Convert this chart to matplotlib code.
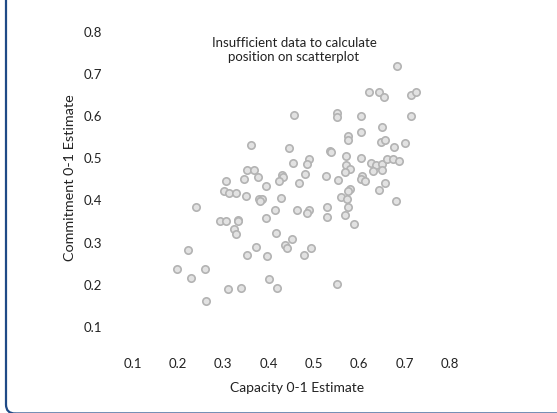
import matplotlib
matplotlib.use("Agg")
import matplotlib.pyplot as plt
from matplotlib.patches import FancyBboxPatch
from matplotlib.transforms import IdentityTransform

capacity = [0.683, 0.621, 0.643, 0.654, 0.715, 0.724, 0.455, 0.550, 0.550, 0.604,
            0.713, 0.651, 0.604, 0.576, 0.576, 0.648, 0.656, 0.701, 0.676, 0.360,
            0.446, 0.535, 0.537, 0.454, 0.490, 0.484, 0.571, 0.603, 0.570, 0.579,
            0.569, 0.626, 0.636, 0.651, 0.662, 0.674, 0.687, 0.631, 0.651, 0.607,
            0.604, 0.613, 0.657, 0.643, 0.682, 0.526, 0.554, 0.480, 0.466, 0.429,
            0.431, 0.422, 0.395, 0.353, 0.367, 0.376, 0.345, 0.307, 0.302, 0.313,
            0.329, 0.350, 0.379, 0.386, 0.380, 0.427, 0.560, 0.573, 0.579, 0.576,
            0.240, 0.413, 0.463, 0.488, 0.485, 0.529, 0.574, 0.568, 0.528, 0.588,
            0.293, 0.307, 0.333, 0.332, 0.394, 0.324, 0.328, 0.416, 0.451, 0.221,
            0.371, 0.352, 0.436, 0.440, 0.494, 0.479, 0.397, 0.197, 0.259, 0.229,
            0.401, 0.311, 0.340, 0.418, 0.551, 0.262]
commitment = [0.716, 0.655, 0.654, 0.644, 0.647, 0.654, 0.601, 0.605, 0.595, 0.597,
              0.597, 0.572, 0.559, 0.551, 0.540, 0.537, 0.542, 0.533, 0.524, 0.529,
              0.521, 0.514, 0.512, 0.487, 0.495, 0.484, 0.502, 0.499, 0.481, 0.473,
              0.465, 0.487, 0.482, 0.484, 0.495, 0.495, 0.491, 0.467, 0.469, 0.456,
              0.448, 0.444, 0.439, 0.422, 0.395, 0.456, 0.447, 0.461, 0.439, 0.457,
              0.452, 0.443, 0.431, 0.469, 0.469, 0.454, 0.449, 0.444, 0.419, 0.416,
              0.416, 0.408, 0.402, 0.402, 0.396, 0.403, 0.405, 0.400, 0.424, 0.421,
              0.382, 0.374, 0.374, 0.374, 0.367, 0.381, 0.381, 0.363, 0.357, 0.341,
              0.348, 0.348, 0.351, 0.348, 0.356, 0.330, 0.317, 0.320, 0.306, 0.280,
              0.287, 0.268, 0.291, 0.284, 0.285, 0.269, 0.266, 0.234, 0.234, 0.213,
              0.211, 0.188, 0.190, 0.190, 0.199, 0.160]

ticks = [0.1, 0.2, 0.3, 0.4, 0.5, 0.6, 0.7, 0.8]
tick_labels = ["0.1", "0.2", "0.3", "0.4", "0.5", "0.6", "0.7", "0.8"]

plt.rcParams['font.family'] = ['Lato', 'DejaVu Sans']

fig = plt.figure(figsize=(5.57, 4.14), dpi=100)
ax = fig.add_axes([0.1975, 0.1546, 0.651, 0.789])

ax.scatter(capacity, commitment, s=28, facecolor='#e2e2e2', edgecolor='#b3b3b3',
           linewidths=1.2, zorder=3)

ax.set_xlim(0.05, 0.85)
ax.set_ylim(0.045, 0.82)
ax.set_xticks(ticks)
ax.set_xticklabels(tick_labels)
ax.set_yticks(ticks)
ax.set_yticklabels(tick_labels)
ax.tick_params(length=0, labelsize=9.5, colors='#222222', pad=6)
for s in ax.spines.values():
    s.set_visible(False)

fig.text(297/557, 1 - 388/414, "Capacity 0-1 Estimate", ha='center', va='center',
         fontsize=10, color='#222222')
fig.text(70/557, 1 - 178/414, "Commitment 0-1 Estimate", ha='center', va='center',
         rotation=90, fontsize=10.4, color='#222222')
fig.text(294/557, 1 - 50/414, "Insufficient data to calculate\nposition on scatterplot",
         ha='center', va='center', fontsize=9.5, color='#222222', linespacing=1.2)

border = FancyBboxPatch((6, -0.5), 800, 600, boxstyle="round,pad=0,rounding_size=9",
                        transform=IdentityTransform(), facecolor='none',
                        edgecolor='#1f4a86', linewidth=1.6, clip_on=False)
fig.add_artist(border)

fig.savefig("out.png", dpi=100)
